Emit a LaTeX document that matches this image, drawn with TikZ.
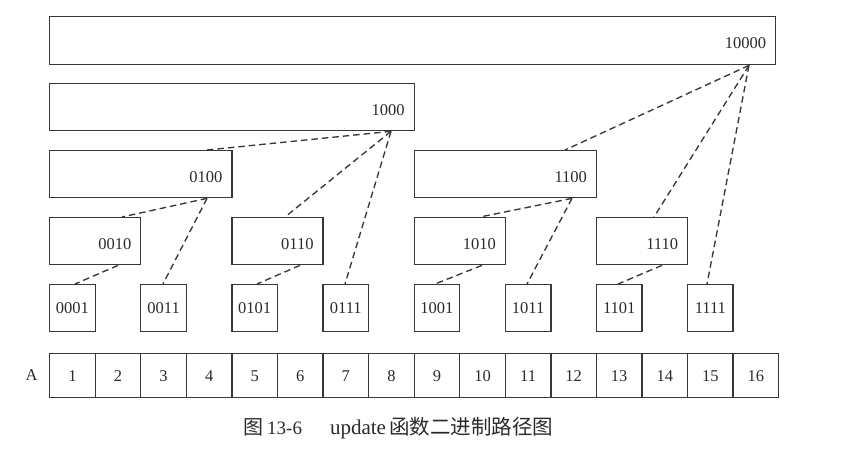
\documentclass[tikz,border=0pt]{standalone}
\usepackage{fontspec}
\setmainfont{Liberation Serif}
\newfontfamily\cjk{Noto Sans CJK SC}
\usetikzlibrary{calc}
\definecolor{ink}{HTML}{383838}
\definecolor{txt}{HTML}{2A2A2A}
\begin{document}
\begin{tikzpicture}[x=1pt,y=-1pt,
  box/.style={draw=ink, line width=1.35pt, rectangle, inner sep=0pt, anchor=north west},
  lab/.style={text=txt, inner sep=0pt, font=\fontsize{16.5}{18}\selectfont},
  path/.style={draw=ink, line width=1.35pt, dash pattern=on 6.5pt off 4pt}]
\useasboundingbox (0,0) rectangle (858,450);
\def\cw{45.5625}
\def\xo{49}

% range boxes of the tree, one row per level
\node[box, minimum width=726pt, minimum height=48pt] (b10000) at (\xo,16) {};
\node[box, minimum width=8*\cw pt, minimum height=47pt] (b1000) at (\xo,83) {};
\node[box, minimum width=4*\cw pt, minimum height=47pt] (b0100) at (\xo,150) {};
\node[box, minimum width=4*\cw pt, minimum height=47pt] (b1100) at (\xo+8*\cw,150) {};
\node[box, minimum width=2*\cw pt, minimum height=47pt] (b0010) at (\xo,217) {};
\node[box, minimum width=2*\cw pt, minimum height=47pt] (b0110) at (\xo+4*\cw,217) {};
\node[box, minimum width=2*\cw pt, minimum height=47pt] (b1010) at (\xo+8*\cw,217) {};
\node[box, minimum width=2*\cw pt, minimum height=47pt] (b1110) at (\xo+12*\cw,217) {};

% right-aligned labels of the wide boxes
\foreach \n in {10000,1000,0100,1100,0010,0110,1010,1110}
  \node[lab, anchor=east] (t\n) at ([xshift=-10pt,yshift=-2.5pt]b\n.east) {\n};

% single-element boxes
\foreach \n [count=\i from 0] in {0001,0011,0101,0111,1001,1011,1101,1111}
  \node[box, minimum width=\cw pt, minimum height=47pt] (b\n) at (\xo+2*\i*\cw,284) {}
    node[lab] (t\n) at (b\n.center) {\n};

% the array A
\node[lab] (arrA) at (31.5,375) {A};
\foreach \i in {1,...,16}
  \node[box, minimum width=\cw pt, minimum height=44pt] (c\i) at (\xo+\i*\cw-\cw,353) {}
    node[lab] at (c\i.center) {\i};

% start and end points of the update paths
\coordinate (o10000) at (749,0 |- b10000.south);
\coordinate (o1000)  at (391,0 |- b1000.south);
\coordinate (o0100)  at (207,0 |- b0100.south);
\coordinate (o1100)  at (572,0 |- b1100.south);
\coordinate (o0010)  at (118,0 |- b0010.south);
\coordinate (o0110)  at (300,0 |- b0110.south);
\coordinate (o1010)  at (482,0 |- b1010.south);
\coordinate (o1110)  at (662,0 |- b1110.south);
\coordinate (i0100)  at (207,0 |- b0100.north);
\coordinate (i1100)  at (565,0 |- b1100.north);
\coordinate (i0010)  at (122,0 |- b0010.north);
\coordinate (i0110)  at (285,0 |- b0110.north);
\coordinate (i1010)  at (480,0 |- b1010.north);
\coordinate (i1110)  at (654,0 |- b1110.north);
\coordinate (i0001)  at (75,0 |- b0001.north);
\coordinate (i0011)  at (163,0 |- b0011.north);
\coordinate (i0101)  at (257,0 |- b0101.north);
\coordinate (i0111)  at (345,0 |- b0111.north);
\coordinate (i1001)  at (435,0 |- b1001.north);
\coordinate (i1011)  at (527,0 |- b1011.north);
\coordinate (i1101)  at (618,0 |- b1101.north);
\coordinate (i1111)  at (707,0 |- b1111.north);

\foreach \p/\c in {10000/1100,10000/1110,10000/1111,
                   1000/0100,1000/0110,1000/0111,
                   0100/0010,0100/0011,1100/1010,1100/1011,
                   0010/0001,0110/0101,1010/1001,1110/1101}
  \draw[path] (o\p) -- (i\c);

% caption
\node[text=txt, inner sep=0pt, anchor=west] (cap) at (243,428)
  {\fontsize{19}{22}\selectfont{\cjk\fontsize{20}{22}\selectfont 图}\hspace{4pt}13-6\hspace{28pt}{\fontsize{21}{22}\selectfont update}\hspace{3pt}{\cjk\fontsize{20.5}{22}\selectfont 函数二进制路径图}};
\end{tikzpicture}
\end{document}
